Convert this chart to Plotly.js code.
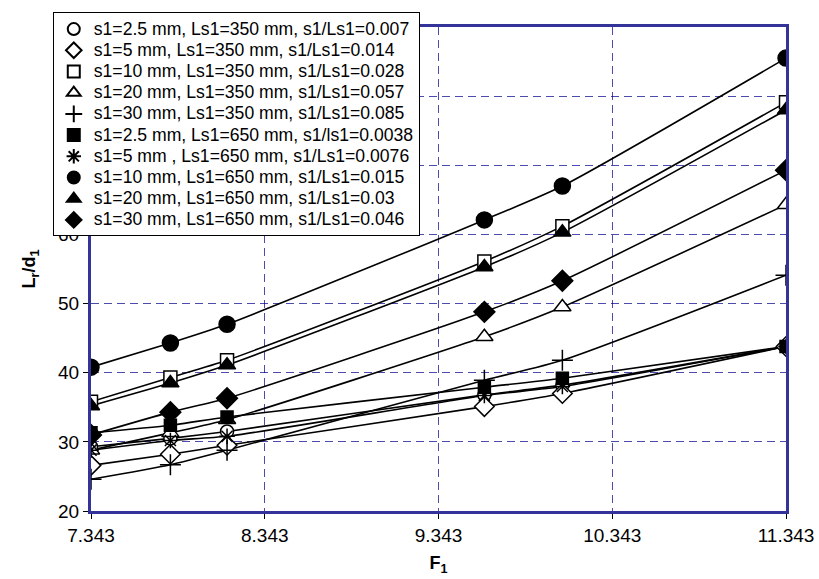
<!DOCTYPE html>
<html>
<head>
<meta charset="utf-8">
<script src="https://cdn.plot.ly/plotly-3.0.1.min.js"></script>
<style>html,body{margin:0;padding:0;background:#fff;}#chart{width:819px;height:579px;}</style>
</head>
<body>
<div id="chart"></div>
<script>
// F1 values (x)
var F1 = [7.343, 7.8, 8.126, 9.607, 10.056, 11.343];
var xTickVals = [7.343, 8.343, 9.343, 10.343, 11.343];
var xTickText = ['7.343', '8.343', '9.343', '10.343', '11.343'];

// Series names
var seriesNames = [
  's1=2.5 mm, Ls1=350 mm, s1/Ls1=0.007',
  's1=5 mm, Ls1=350 mm, s1/Ls1=0.014',
  's1=10 mm, Ls1=350 mm, s1/Ls1=0.028',
  's1=20 mm, Ls1=350 mm, s1/Ls1=0.057',
  's1=30 mm, Ls1=350 mm, s1/Ls1=0.085',
  's1=2.5 mm, Ls1=650 mm, s1/ls1=0.0038',
  's1=5 mm , Ls1=650 mm, s1/Ls1=0.0076',
  's1=10 mm, Ls1=650 mm, s1/Ls1=0.015',
  's1=20 mm, Ls1=650 mm, s1/Ls1=0.03',
  's1=30 mm, Ls1=650 mm, s1/Ls1=0.046'
];

// Lr/d1 values per series
var s1_25_350 = [29.3, 30.5, 31.5, 36.8, 38.2, 43.8];
var s1_5_350  = [26.6, 28.2, 29.5, 35.1, 37.0, 43.8];
var s1_10_350 = [35.8, 39.3, 41.8, 56.1, 61.2, 79.1];
var s1_20_350 = [28.8, 31.3, 33.2, 45.2, 49.5, 64.3];
var s1_30_350 = [24.6, 26.7, 28.8, 38.9, 41.8, 54.1];
var s1_25_650 = [31.3, 32.4, 33.6, 37.9, 39.2, 43.8];
var s1_5_650  = [28.8, 30.2, 30.8, 36.7, 38.0, 43.8];
var s1_10_650 = [40.8, 44.3, 47.0, 62.1, 67.0, 85.5];
var s1_20_650 = [35.2, 38.5, 41.1, 55.3, 60.3, 78.0];
var s1_30_650 = [31.0, 34.3, 36.3, 48.8, 53.3, 69.3];

var seriesValues = [s1_25_350, s1_5_350, s1_10_350, s1_20_350, s1_30_350,
                    s1_25_650, s1_5_650, s1_10_650, s1_20_650, s1_30_650];

// marker styles
var styles = [
  {symbol: 'circle', size: 13, color: '#fff'},
  {symbol: 'diamond', size: 15, color: '#fff'},
  {symbol: 'square', size: 13, color: '#fff'},
  {symbol: 'triangle-up', size: 15, color: '#fff'},
  {symbol: 'cross-thin-open', size: 15, color: '#000'},
  {symbol: 'square', size: 12, color: '#000'},
  {symbol: 'asterisk-open', size: 13, color: '#000'},
  {symbol: 'circle', size: 16, color: '#000'},
  {symbol: 'triangle-up', size: 15, color: '#000'},
  {symbol: 'diamond', size: 16, color: '#000'}
];

var traces = [];
// lines
seriesValues.forEach(function (vals, i) {
  traces.push({
    x: F1, y: vals, type: 'scatter', mode: 'lines',
    line: {color: '#000', width: 1.6, shape: 'spline', smoothing: 0.6},
    showlegend: false, hoverinfo: 'skip'
  });
});
// markers
seriesValues.forEach(function (vals, i) {
  var st = styles[i];
  traces.push({
    x: F1, y: vals, type: 'scatter', mode: 'markers',
    name: '<span style="font-size:17.6px">' + seriesNames[i] + '</span>',
    marker: {symbol: st.symbol, size: st.size, color: st.color,
             line: {color: '#000', width: 1.5}}
  });
});

var gridColor = 'rgba(0,0,140,0.7)';
var layout = {
  width: 819, height: 579,
  margin: {l: 91, r: 33, t: 27, b: 68},
  paper_bgcolor: '#fff', plot_bgcolor: '#fff',
  font: {family: 'Liberation Sans, Arial, sans-serif', color: '#000', size: 18},
  showlegend: true,
  legend: {
    x: -0.055, y: 1.03, xanchor: 'left', yanchor: 'top',
    bgcolor: '#fff', bordercolor: '#000', borderwidth: 1,
    font: {size: 14, color: '#000'},
    tracegroupgap: 0, itemwidth: 30, itemsizing: 'constant'
  },
  xaxis: {
    range: [7.343, 11.343], tickmode: 'array', tickvals: xTickVals, ticktext: xTickText,
    showline: true, linecolor: '#333399', linewidth: 3, mirror: true,
    showgrid: true, gridcolor: gridColor, gridwidth: 1, griddash: '8px,5px',
    ticks: 'outside', ticklen: 5, tickcolor: '#000', tickwidth: 1,
    tickfont: {size: 19}, zeroline: false,
    title: {text: '<b>F<sub>1</sub></b>', font: {size: 18}, standoff: 12}
  },
  yaxis: {
    range: [20, 90], dtick: 10, tick0: 20,
    showline: true, linecolor: '#333399', linewidth: 3, mirror: true,
    showgrid: true, gridcolor: gridColor, gridwidth: 1, griddash: '8px,5px',
    ticks: 'outside', ticklen: 5, tickcolor: '#000', tickwidth: 1,
    tickfont: {size: 19}, zeroline: false,
    title: {text: '<b>L<sub>r</sub>/d<sub>1</sub></b>', font: {size: 18}, standoff: 18}
  }
};

Plotly.newPlot('chart', traces, layout, {displayModeBar: false, staticPlot: true});
</script>
</body>
</html>
